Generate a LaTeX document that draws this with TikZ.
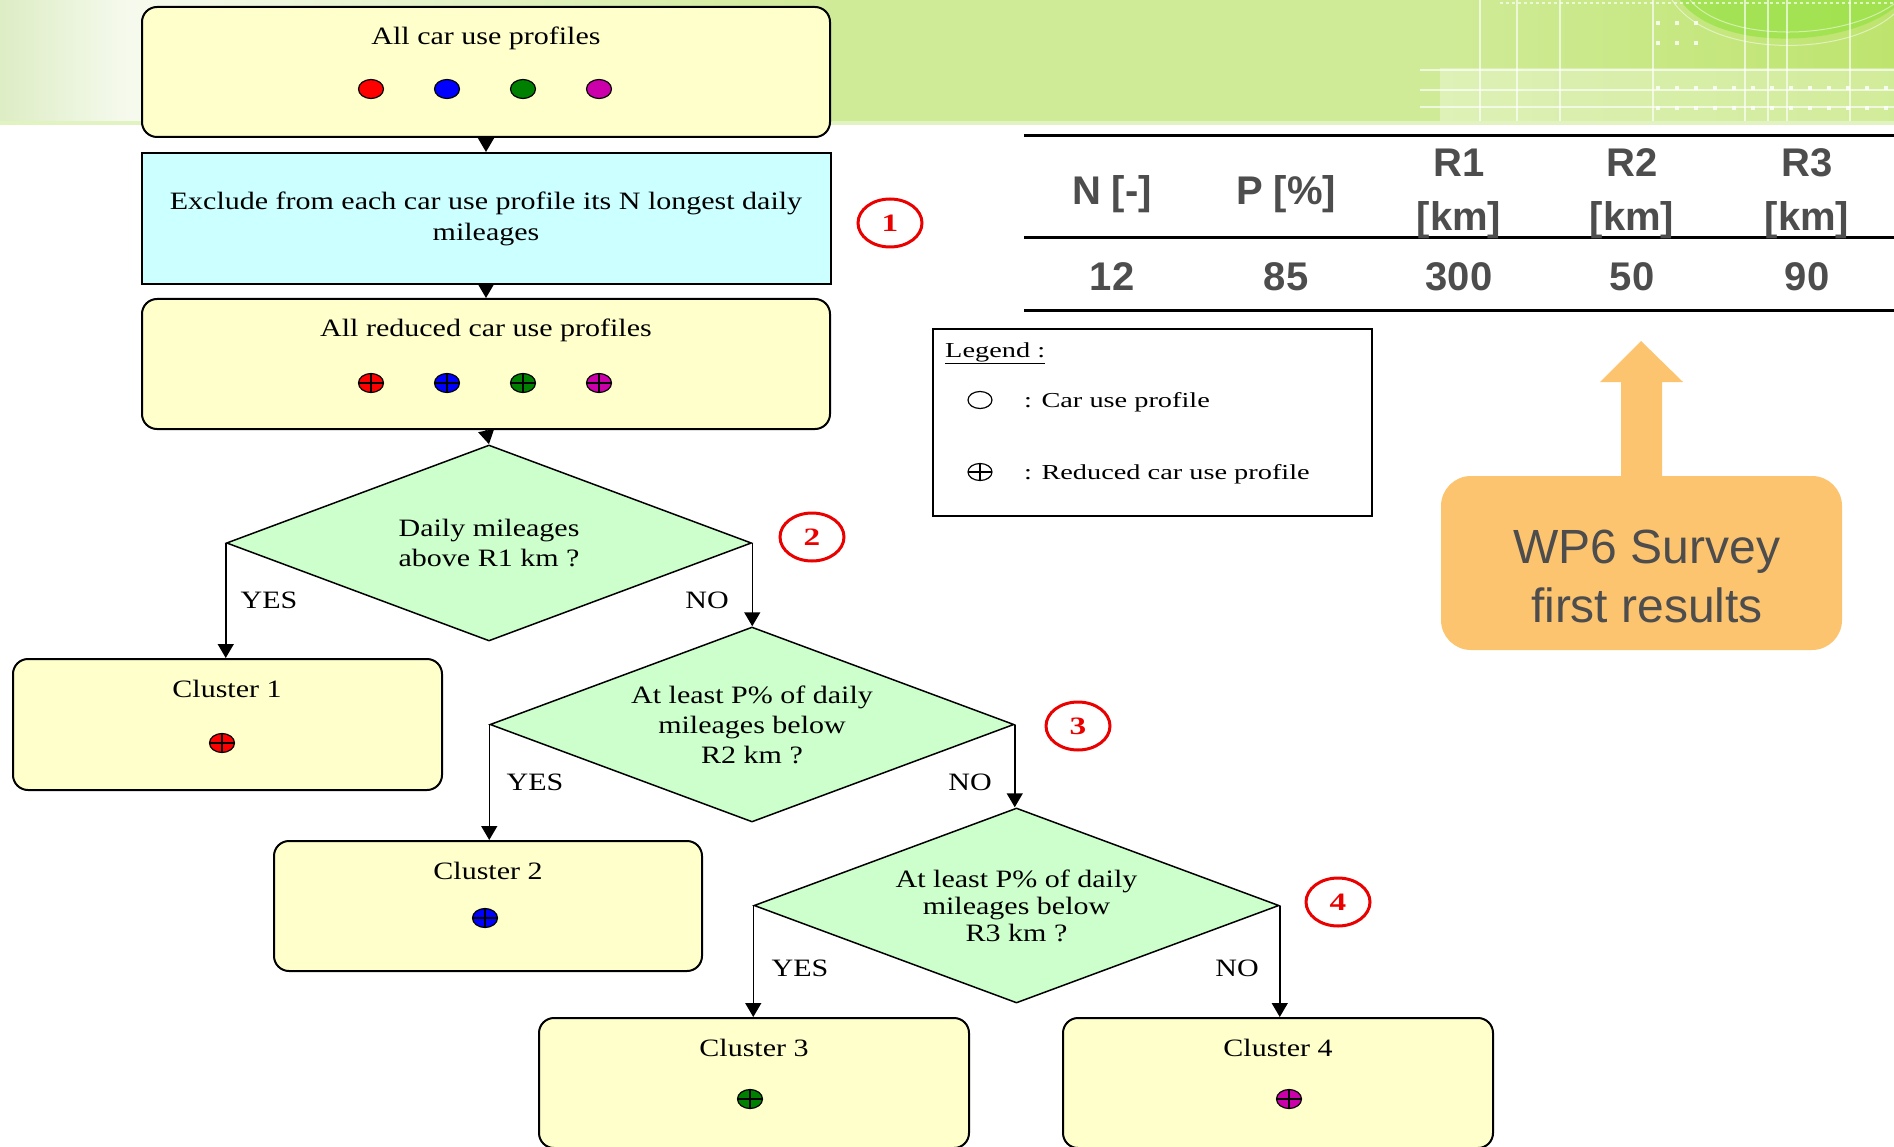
\documentclass[tikz,border=0pt]{standalone}
\usepackage{graphicx}
\usepackage{fontspec}
\setmainfont{Liberation Serif}
\newfontfamily\flowfont{Liberation Serif}
\newfontfamily\tabfont{Liberation Sans}
\usetikzlibrary{shapes.geometric,arrows.meta}
\newcommand{\sx}[1]{\scalebox{1.2}[1]{#1}}
\newcommand{\lx}[1]{\scalebox{1.33}[1]{#1}}

\definecolor{bandgreen}{RGB}{208,235,152}
\definecolor{palegreen}{RGB}{221,237,196}
\definecolor{whitegreen}{RGB}{246,250,238}
\definecolor{brightgreen}{RGB}{168,218,70}
\definecolor{softgreen}{RGB}{190,228,110}
\definecolor{stripgreen}{RGB}{226,243,194}
\definecolor{boxyellow}{RGB}{255,255,204}
\definecolor{boxcyan}{RGB}{204,255,255}
\definecolor{diagreen}{RGB}{204,255,204}
\definecolor{dotred}{RGB}{255,0,0}
\definecolor{dotblue}{RGB}{0,0,255}
\definecolor{dotgreen}{RGB}{0,128,0}
\definecolor{dotmag}{RGB}{204,0,170}
\definecolor{txtgray}{RGB}{77,77,77}
\definecolor{orangefill}{RGB}{253,196,111}
\definecolor{markred}{RGB}{235,0,0}

\tikzset{
 ybox/.style={draw=black, line width=2pt, fill=boxyellow, rounded corners=15pt, inner sep=0pt},
 cbox/.style={draw=black, line width=2pt, fill=boxcyan, inner sep=0pt, align=center,
   font=\flowfont\fontsize{25}{31}\selectfont},
 dia/.style={diamond, draw=black, line width=1.5pt, fill=diagreen, shape aspect=2.7, inner sep=0pt,
   align=center, font=\flowfont\fontsize{25}{30}\selectfont},
 ftext/.style={inner sep=0pt, anchor=base, font=\flowfont\fontsize{25}{30}\selectfont},
 legtext/.style={inner sep=0pt, anchor=base west, font=\flowfont\fontsize{21.3}{21}\selectfont},
 pdot/.style={ellipse, draw=black, line width=1.2pt, minimum width=25pt, minimum height=19pt, inner sep=0pt},
 rdot/.style={pdot, path picture={\draw[line width=1.2pt] (path picture bounding box.north) -- (path picture bounding box.south) (path picture bounding box.west) -- (path picture bounding box.east);}},
 flow/.style={draw=black, line width=1.5pt, -{Triangle[length=14pt,width=16pt]}},
 stepmark/.style={ellipse, draw=markred, line width=3pt, minimum width=64pt, minimum height=48pt,
   inner sep=0pt, text=markred, font=\flowfont\bfseries\fontsize{25}{25}\selectfont},
 tabtxt/.style={inner sep=0pt, text=txtgray, font=\tabfont\bfseries\fontsize{40}{40}\selectfont, anchor=base},
 tabrule/.style={line width=3pt, draw=black},
 wptext/.style={inner sep=0pt, text=txtgray, font=\tabfont\fontsize{48}{48}\selectfont, anchor=base}
}

\begin{document}
\begin{tikzpicture}[x=1pt, y=-1pt]
\path[use as bounding box] (0,0) rectangle (1894,1147);
\clip (0,0) rectangle (1894,1147);
\fill[white] (0,0) rectangle (1894,1147);

% ---------- header band ----------
\fill[bandgreen] (0,0) rectangle (1894,124);
\shade[left color=palegreen, right color=whitegreen] (0,0) rectangle (130,124);
\shade[left color=whitegreen, right color=bandgreen] (130,0) rectangle (830,124);
\shade[left color=bandgreen, middle color=brightgreen, right color=softgreen] (1440,0) rectangle (1894,124);
\fill[white, opacity=0.3] (1440,68) rectangle (1894,124);
\fill[brightgreen!85!green, opacity=0.6] (1680,0) .. controls (1715,50) and (1840,50) .. (1894,8) -- (1894,0) -- cycle;
\draw[white, opacity=0.5, line width=1pt] (1690,0) .. controls (1725,42) and (1840,42) .. (1894,4);
\draw[white, opacity=0.5, line width=1pt] (1672,0) .. controls (1710,58) and (1845,58) .. (1894,14);
\begin{scope}[white, opacity=0.65, line width=2pt]
 \draw (1420,70) -- (1894,70);
 \draw (1420,90) -- (1894,90);
 \draw (1420,107) -- (1894,107);
 \draw[dashed] (1500,3) -- (1894,3);
 \foreach \x in {1480,1517,1560,1653,1745,1768,1787,1850} \draw (\x,0) -- (\x,124);
\end{scope}
\foreach \y in {23,43} \foreach \x in {1658,1677,1696} \fill[white, opacity=0.8] (\x-2,\y-2) rectangle (\x+2,\y+2);
\foreach \y in {88,108} \foreach \x in {1658,1677,...,1894} \fill[white, opacity=0.8] (\x-2,\y-2) rectangle (\x+2,\y+2);
\fill[stripgreen] (0,121) rectangle (1894,125);

% ---------- flowchart ----------
\node[ybox, minimum width=688pt, minimum height=130pt] (b1) at (486,72) {};
\node[ftext] (t1) at (486,45) {\sx{All car use profiles}};
\node[pdot, fill=dotred] (p1) at (371,89) {};
\node[pdot, fill=dotblue] (p2) at (447,89) {};
\node[pdot, fill=dotgreen] (p3) at (523,89) {};
\node[pdot, fill=dotmag] (p4) at (599,89) {};

\node[cbox, minimum width=689pt, minimum height=131pt] (b2) at (486,218.5)
  {\sx{Exclude from each car use profile its N longest daily}\\\sx{mileages}};
\node[stepmark] (m1) at (890,223) {\lx{1}};

\node[ybox, minimum width=688pt, minimum height=130pt] (b3) at (486,364) {};
\node[ftext] (t3) at (486,337) {\sx{All reduced car use profiles}};
\node[rdot, fill=dotred] (r1) at (371,383) {};
\node[rdot, fill=dotblue] (r2) at (447,383) {};
\node[rdot, fill=dotgreen] (r3) at (523,383) {};
\node[rdot, fill=dotmag] (r4) at (599,383) {};

\node[dia, minimum width=525pt, minimum height=196pt] (d1) at (489,543) {\sx{Daily mileages}\\\sx{above R1 km ?}};
\node[stepmark] (m2) at (812,537) {\lx{2}};
\node[ybox, minimum width=429pt, minimum height=131pt] (c1) at (227.5,724.5) {};
\node[ftext] (tc1) at (227,697) {\sx{Cluster 1}};
\node[rdot, fill=dotred] (q1) at (222,743) {};

\node[dia, minimum width=524pt, minimum height=195pt] (d2) at (752,724.5) {\sx{At least P\% of daily}\\\sx{mileages below}\\\sx{R2 km ?}};
\node[stepmark] (m3) at (1078,726) {\lx{3}};
\node[ybox, minimum width=428pt, minimum height=130pt] (c2) at (488,906) {};
\node[ftext] (tc2) at (488,879) {\sx{Cluster 2}};
\node[rdot, fill=dotblue] (q2) at (485,918) {};

\node[dia, minimum width=525pt, minimum height=195pt, font=\flowfont\fontsize{25}{27}\selectfont] (d3) at (1016.5,905.5) {\sx{At least P\% of daily}\\\sx{mileages below}\\\sx{R3 km ?}};
\node[stepmark] (m4) at (1338,902) {\lx{4}};
\node[ybox, minimum width=430pt, minimum height=130pt] (c3) at (754,1083) {};
\node[ftext] (tc3) at (754,1056) {\sx{Cluster 3}};
\node[rdot, fill=dotgreen] (q3) at (750,1099) {};
\node[ybox, minimum width=430pt, minimum height=130pt] (c4) at (1278,1083) {};
\node[ftext] (tc4) at (1278,1056) {\sx{Cluster 4}};
\node[rdot, fill=dotmag] (q4) at (1289,1099) {};

\node[ftext] (y1) at (269,608) {\sx{YES}};
\node[ftext] (n1) at (707,608) {\sx{NO}};
\node[ftext] (y2) at (535,790) {\sx{YES}};
\node[ftext] (n2) at (970,790) {\sx{NO}};
\node[ftext] (y3) at (800,976) {\sx{YES}};
\node[ftext] (n3) at (1237,976) {\sx{NO}};

\draw[flow] (b1.south) -- (b2.north);
\draw[flow] (b2.south) -- (b3.north);
\draw[flow] (b3.south) -- (d1.north);
\draw[flow] (d1.west) -- (d1.west |- c1.north);
\draw[flow] (d1.east) -- (d1.east |- d2.north);
\draw[flow] (d2.west) -- (d2.west |- c2.north);
\draw[flow] (d2.east) -- (d2.east |- d3.north);
\draw[flow] (d3.west) -- (d3.west |- c3.north);
\draw[flow] (d3.east) -- (d3.east |- c4.north);

% ---------- legend ----------
\node[draw=black, line width=2pt, minimum width=439pt, minimum height=187pt, inner sep=0pt] (lg) at (1152.5,422.5) {};
\node[legtext] (lgt) at (945,357) {\lx{\underline{Legend :}}};
\node[pdot, fill=white, minimum width=24pt, minimum height=17pt] (ls1) at (980,400) {};
\node[legtext] (ll1) at (1024,407) {\lx{: Car use profile}};
\node[rdot, fill=white, minimum width=24pt, minimum height=17pt] (ls2) at (980,472) {};
\node[legtext] (ll2) at (1024,479) {\lx{: Reduced car use profile}};

% ---------- table ----------
\draw[tabrule] (1024,136) -- (1894,136);
\draw[tabrule] (1024,238) -- (1894,238);
\draw[tabrule] (1024,311) -- (1894,311);
\node[tabtxt] (hN) at (1112,205) {N [-]};
\node[tabtxt] (hP) at (1286,205) {P [\%]};
\node[tabtxt] (hR1a) at (1459,177) {R1};
\node[tabtxt] (hR1b) at (1459,231) {[km]};
\node[tabtxt] (hR2a) at (1632,177) {R2};
\node[tabtxt] (hR2b) at (1632,231) {[km]};
\node[tabtxt] (hR3a) at (1807,177) {R3};
\node[tabtxt] (hR3b) at (1807,231) {[km]};
\node[tabtxt] (vN) at (1112,291) {12};
\node[tabtxt] (vP) at (1286,291) {85};
\node[tabtxt] (vR1) at (1459,291) {300};
\node[tabtxt] (vR2) at (1632,291) {50};
\node[tabtxt] (vR3) at (1807,291) {90};

% ---------- WP6 callout ----------
\fill[orangefill] (1621,478) -- (1621,382) -- (1600,382) -- (1641,341) -- (1683,382) -- (1662,382) -- (1662,478) -- cycle;
\node[fill=orangefill, rounded corners=30pt, minimum width=401pt, minimum height=174pt, inner sep=0pt] (ob) at (1641.5,563) {};
\node[wptext] (ot1) at (1647,563) {WP6 Survey};
\node[wptext] (ot2) at (1647,622) {first results};
\end{tikzpicture}
\end{document}
